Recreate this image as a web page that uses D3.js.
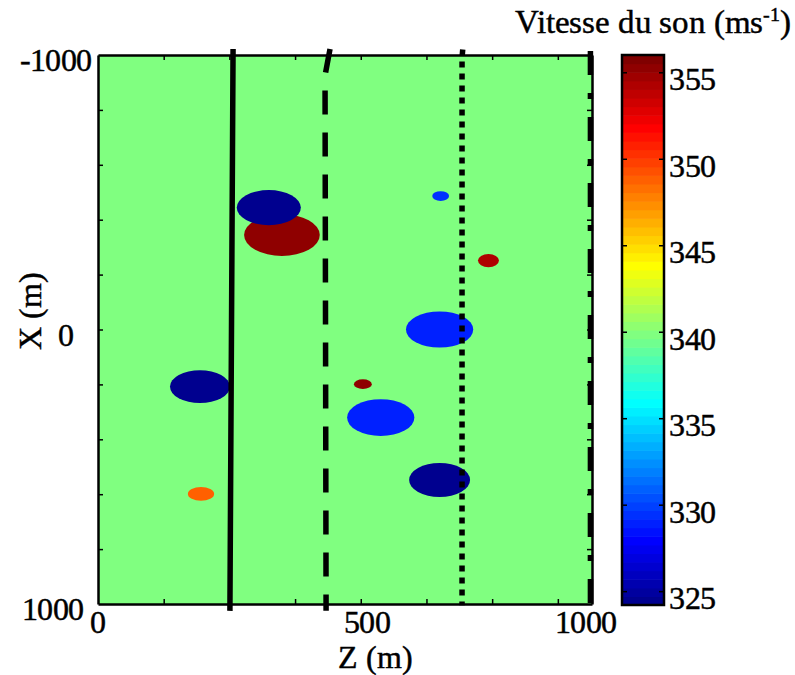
<!DOCTYPE html>
<html><head><meta charset="utf-8">
<script src="https://cdn.jsdelivr.net/npm/d3@7"></script>
<style>
@font-face { font-family: "RSerif"; src: local("Liberation Serif"), local("LiberationSerif"), local("Liberation Serif Regular"), local("LiberationSerif-Regular"), local("DejaVu Serif"); }
body{margin:0;background:#fff;}
svg text{font-family:RSerif,"Liberation Serif","DejaVu Serif","Times New Roman",serif;}
</style>
</head><body>
<svg id="chart" width="795" height="675"></svg>
<script>
// ---------------- data ----------------
const zDomain = [0, 940];            // Z (m), horizontal
const xDomain = [-1000, 1000];       // X (m), vertical (downwards)
const zMinorTicks = [125, 250, 375, 500, 625, 750, 875];
const zTickLabelValues = [0, 512, 928];
const zTickLabels = ["0", "500", "1000"];
const xMinorTicks = [-800, -600, -400, -200, 0, 200, 400, 600, 800];
const xTickLabelValues = [-1000, 0, 1000];
const xTickLabels = ["-1000", "0", "1000"];

const colorDomain = [324.2, 356];
const colorTicks = [325, 330, 335, 340, 345, 350, 355];
const backgroundSpeed = 340;

// anomalies (ellipses): centre Z, centre X, half-width Z, half-height X, speed
const anomalyZ     = [350, 325, 194, 196, 504, 538, 650, 650, 652, 743];
const anomalyX     = [-344, -444, 208, 599, 199, 321, 548, 0, -486, -251];
const anomalyRz    = [72, 61, 57, 25, 17, 64, 58, 64, 16, 20];
const anomalyRx    = [76, 64, 60, 25, 18, 67, 62, 66, 18, 24];
const anomalySpeed = [355.3, 324.5, 324.5, 348.8, 355.3, 329, 324.5, 329, 329.5, 354.2];

// ray / boundary lines
const solidZ   = [257, 254, 251];
const solidX   = [-1022, 0, 1025];
const dashedZ  = [441.5, 432, 434];
const dashedX  = [-1022, -925, 1025];
const dottedZ  = [694, 692.7, 692.7];
const dottedX  = [-1020, -990, 1005];
const dashdotZ = [937, 937];
const dashdotX = [-1015, 1005];

// ---------------- fonts ----------------
const FONT_A = "RSerif, 'Liberation Serif', 'DejaVu Serif', serif";
const FONT_B = "RSerif, 'Liberation Serif', 'DejaVu Serif', 'Times New Roman', serif";
const cv = document.createElement("canvas").getContext("2d");
["RSerif", "'Liberation Serif'", "'DejaVu Serif'"].forEach(f => { cv.font = "32px " + f; cv.measureText("Vitesse 1000"); });

// ---------------- drawing ----------------
const svg = d3.select("#chart");
const z = d3.scaleLinear().domain(zDomain).range([98, 592]);
const x = d3.scaleLinear().domain(xDomain).range([55, 604]);
const cb = d3.scaleLinear().domain(colorDomain).range([605, 55]);

function jetRow(i) { // MATLAB jet(64), i = 1..64
  const u = k => (k < 1 || k > 47) ? 0 : (k <= 16 ? k / 16 : (k <= 31 ? 1 : (48 - k) / 16));
  const r = i >= 25 ? u(i - 24) : 0;
  const g = (i >= 9 && i <= 55) ? u(i - 8) : 0;
  const b = i <= 39 ? u(i + 8) : 0;
  return d3.rgb(Math.round(r * 255), Math.round(g * 255), Math.round(b * 255)).toString();
}
function speedColor(v) {
  const t = (v - colorDomain[0]) / (colorDomain[1] - colorDomain[0]);
  const i = Math.max(1, Math.min(64, Math.floor(t * 64) + 1));
  return jetRow(i);
}

svg.append("rect").attr("x", z(zDomain[0])).attr("y", x(xDomain[0]))
  .attr("width", z(zDomain[1]) - z(zDomain[0])).attr("height", x(xDomain[1]) - x(xDomain[0]))
  .attr("fill", speedColor(backgroundSpeed));

const anomalies = anomalyZ.map((d, i) => ({z: d, x: anomalyX[i], rz: anomalyRz[i], rx: anomalyRx[i], v: anomalySpeed[i]}));
svg.append("g").selectAll("ellipse").data(anomalies).join("ellipse")
  .attr("cx", d => z(d.z)).attr("cy", d => x(d.x))
  .attr("rx", d => z(d.rz) - z(0)).attr("ry", d => x(d.rx) - x(0))
  .attr("fill", d => speedColor(d.v));

const frame = svg.append("g");
function styleAxis(g) {
  g.selectAll("path.domain").attr("stroke", "#000").attr("stroke-width", 2.5);
  g.selectAll(".tick line").attr("stroke", "#000").attr("stroke-width", 1.5);
  g.selectAll(".tick text").remove();
}
frame.append("g").attr("transform", `translate(0,${x(xDomain[1])})`)
  .call(d3.axisBottom(z).tickValues(zMinorTicks).tickSizeInner(-5).tickSizeOuter(0)).call(styleAxis);
frame.append("g").attr("transform", `translate(0,${x(xDomain[0])})`)
  .call(d3.axisTop(z).tickValues(zMinorTicks).tickSizeInner(-5).tickSizeOuter(0)).call(styleAxis);
frame.append("g").attr("transform", `translate(${z(zDomain[0])},0)`)
  .call(d3.axisLeft(x).tickValues(xMinorTicks).tickSizeInner(-5).tickSizeOuter(0)).call(styleAxis);
frame.append("g").attr("transform", `translate(${z(zDomain[1])},0)`)
  .call(d3.axisRight(x).tickValues(xMinorTicks).tickSizeInner(-5).tickSizeOuter(0)).call(styleAxis);

const line = d3.line().x(d => z(d[0])).y(d => x(d[1]));
const lineDefs = [
  {zs: solidZ, xs: solidX, dash: null},
  {zs: dashedZ, xs: dashedX, dash: "24,18"},
  {zs: dottedZ, xs: dottedX, dash: "6,6"},
  {zs: dashdotZ, xs: dashdotX, dash: "24,18,6,18"}
];
svg.append("g").selectAll("path").data(lineDefs).join("path")
  .attr("d", d => line(d.zs.map((v, i) => [v, d.xs[i]])))
  .attr("fill", "none").attr("stroke", "#000").attr("stroke-width", 5.5)
  .attr("stroke-dasharray", d => d.dash);

const FS = 32;
const txt = sel => sel.attr("font-family", FONT_A).attr("fill", "#000")
  .attr("stroke", "#000").attr("stroke-width", 0.45);
svg.append("g").selectAll("text").data(zTickLabelValues).join("text").call(txt)
  .attr("x", d => z(d)).attr("y", 633).attr("text-anchor", "middle")
  .attr("font-size", FS).attr("letter-spacing", -0.8)
  .text((d, i) => zTickLabels[i]);
const yLabelRight = {"-1000": 91, "0": 73, "1000": 83};
svg.append("g").selectAll("text").data(xTickLabelValues).join("text").call(txt)
  .attr("x", d => yLabelRight[String(d)]).attr("y", d => x(d) + 16).attr("text-anchor", "end")
  .attr("font-size", FS).attr("letter-spacing", -0.8)
  .text((d, i) => xTickLabels[i]);

svg.append("text").call(txt).attr("x", 338).attr("y", 668).attr("font-size", FS).text("Z (m)");
svg.append("text").call(txt).attr("transform", "translate(41,311) rotate(-90)").attr("text-anchor", "middle")
  .attr("font-size", FS).text("X (m)");

const cbX0 = 622, cbX1 = 664;
const bands = d3.range(64);
const step = (colorDomain[1] - colorDomain[0]) / 64;
svg.append("g").selectAll("rect").data(bands).join("rect")
  .attr("x", cbX0).attr("width", cbX1 - cbX0)
  .attr("y", i => cb(colorDomain[0] + (i + 1) * step))
  .attr("height", i => cb(colorDomain[0] + i * step) - cb(colorDomain[0] + (i + 1) * step) + 0.6)
  .attr("fill", i => jetRow(i + 1));
svg.append("rect").attr("x", cbX0).attr("y", cb(colorDomain[1]))
  .attr("width", cbX1 - cbX0).attr("height", cb(colorDomain[0]) - cb(colorDomain[1]))
  .attr("fill", "none").attr("stroke", "#000").attr("stroke-width", 2.5);
const cbL = svg.append("g").attr("transform", `translate(${cbX0},0)`)
  .call(d3.axisLeft(cb).tickValues(colorTicks).tickSizeInner(-5).tickSizeOuter(0));
const cbR = svg.append("g").attr("transform", `translate(${cbX1},0)`)
  .call(d3.axisRight(cb).tickValues(colorTicks).tickSizeInner(-5).tickSizeOuter(0));
[cbL, cbR].forEach(g => { g.select("path.domain").remove(); g.selectAll(".tick line").attr("stroke", "#000").attr("stroke-width", 1.5); g.selectAll(".tick text").remove(); });
svg.append("g").selectAll("text").data(colorTicks).join("text").call(txt)
  .attr("x", 669).attr("y", d => cb(d) + 18).attr("font-size", FS).attr("letter-spacing", -0.5)
  .text(d => d);

const title = svg.append("text").call(txt).attr("x", 515).attr("y", 33).attr("font-size", 33)
  .attr("textLength", 276).attr("lengthAdjust", "spacing");
title.append("tspan").text("Vitesse du son (ms");
title.append("tspan").attr("dy", -12).attr("font-size", 20).text("-1");
title.append("tspan").attr("dy", 12).text(")");

// re-resolve fonts once they are available
function refreshFonts() {
  svg.selectAll("text").attr("font-family", FONT_B);
  requestAnimationFrame(() => svg.selectAll("text").attr("font-family", FONT_A));
}
if (document.fonts) {
  document.fonts.load("32px RSerif").then(refreshFonts, refreshFonts);
  document.fonts.ready.then(refreshFonts);
}
setTimeout(refreshFonts, 30);
setTimeout(refreshFonts, 150);
</script>
</body></html>
